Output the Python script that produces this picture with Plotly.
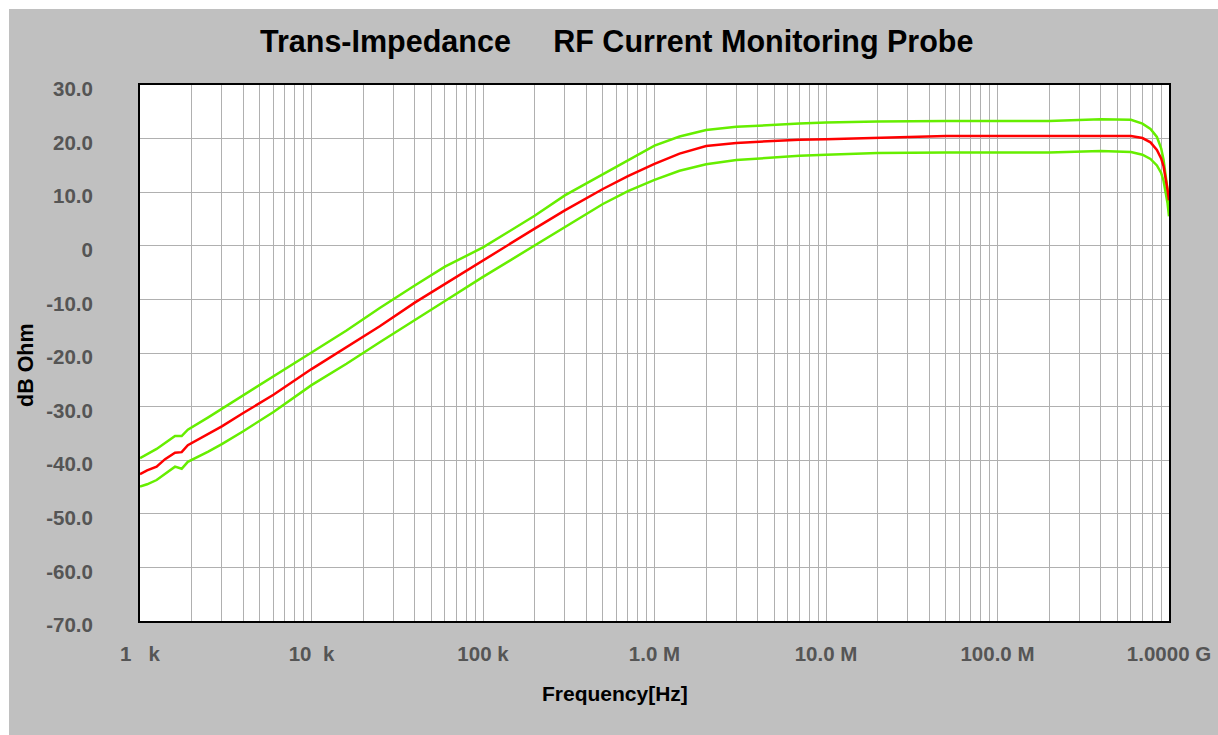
import plotly.graph_objects as go

# Measured trans-impedance of the RF current monitoring probe
freq_hz = [
    1000, 1100, 1250, 1400, 1600, 1750, 1900, 2500, 3000, 4000, 6000,
    10000, 16000, 25000, 40000, 60000, 100000, 150000, 200000, 300000,
    500000, 700000, 1000000, 1400000, 2000000, 3000000, 5000000, 7000000,
    10000000, 20000000, 50000000, 100000000, 200000000, 400000000,
    600000000, 700000000, 780000000, 850000000, 900000000, 930000000,
    960000000, 980000000, 1000000000,
]

z_nominal_db = [
    -42.6, -41.9, -41.2, -39.8, -38.6, -38.5, -37.2, -35.0, -33.7, -31.2, -27.8,
    -23.0, -18.9, -15.0, -10.6, -7.1, -2.7, 0.8, 3.2, 6.6,
    10.6, 13.0, 15.3, 17.2, 18.6, 19.2, 19.6, 19.8,
    19.9, 20.2, 20.5, 20.5, 20.5, 20.5,
    20.5, 20.1, 19.3, 17.9, 16.3, 14.8,
    12.5, 10.5, 8.5,
]

z_upper_db = [
    -39.6, -38.9, -37.9, -36.8, -35.5, -35.5, -34.3, -32.0, -30.4, -27.8, -24.3,
    -19.9, -15.8, -11.6, -7.4, -3.9, -0.3, 3.2, 5.6, 9.4,
    13.3, 16.0, 18.7, 20.4, 21.6, 22.2, 22.6, 22.8,
    23.0, 23.2, 23.3, 23.3, 23.3, 23.6,
    23.5, 22.8, 21.8, 20.3, 18.2, 16.0,
    13.2, 10.5, 7.0,
]

z_lower_db = [
    -44.9, -44.5, -43.7, -42.6, -41.2, -41.6, -40.3, -38.4, -37.0, -34.6, -31.0,
    -26.0, -22.0, -18.0, -13.8, -10.3, -5.8, -2.4, 0.0, 3.5,
    7.8, 10.2, 12.3, 14.0, 15.2, 16.0, 16.5, 16.8,
    17.0, 17.3, 17.4, 17.4, 17.4, 17.7,
    17.5, 17.0, 16.2, 15.0, 13.6, 12.1,
    9.8, 8.0, 5.5,
]

decades_hz = [1e3, 1e4, 1e5, 1e6, 1e7, 1e8, 1e9]
decade_labels = [
    "1\u00a0\u00a0\u00a0k", "10\u00a0\u00a0k", "100 k", "1.0 M",
    "10.0 M", "100.0 M", "1.0000 G",
]

y_ticks = [-70, -60, -50, -40, -30, -20, -10, 0, 10, 20, 30]
y_labels = ["-70.0", "-60.0", "-50.0", "-40.0", "-30.0", "-20.0",
            "-10.0", "0", "10.0", "20.0", "30.0"]

# x grid: every 1..9 step inside each decade, labels only on decades
x_tickvals, x_ticktext = [], []
for i, d in enumerate(decades_hz[:-1]):
    for m in range(1, 10):
        x_tickvals.append(m * d)
        x_ticktext.append(decade_labels[i] if m == 1 else "")
x_tickvals.append(decades_hz[-1])
x_ticktext.append(decade_labels[-1])

W, H = 1218, 735
L, R, T, B = 140, 49, 85, 114
pw, ph = W - L - R, H - T - B


def px_x(px):
    return (px - L) / pw


def px_y(py):
    return (H - B - py) / ph


GREEN = "#66ee00"
RED = "#ff0000"
FONT = "Liberation Sans"
TICK_FONT = dict(family=FONT, size=20.5, color="#555555", weight="bold")

fig = go.Figure()
fig.add_trace(go.Scatter(x=freq_hz, y=z_upper_db, mode="lines",
                         line=dict(color=GREEN, width=2.5), name="upper"))
fig.add_trace(go.Scatter(x=freq_hz, y=z_lower_db, mode="lines",
                         line=dict(color=GREEN, width=2.5), name="lower"))
fig.add_trace(go.Scatter(x=freq_hz, y=z_nominal_db, mode="lines",
                         line=dict(color=RED, width=2.5), name="nominal"))

fig.update_xaxes(
    type="log", range=[3, 9], automargin=False,
    tickmode="array", tickvals=x_tickvals, ticktext=x_ticktext,
    showgrid=True, gridcolor="#b0b0b0", gridwidth=1,
    showline=True, linecolor="black", linewidth=2, mirror=True,
    ticks="", ticklabelstandoff=13,
    tickfont=TICK_FONT,
    zeroline=False,
)
fig.update_yaxes(
    range=[-70, 30], automargin=False,
    tickmode="array", tickvals=y_ticks, ticktext=y_labels,
    showgrid=True, gridcolor="#b0b0b0", gridwidth=1,
    showline=True, linecolor="black", linewidth=2, mirror=True,
    ticks="", ticklabelstandoff=41, ticklabelshift=4,
    tickfont=TICK_FONT,
    zeroline=False,
)

annotations = [
    dict(text="Trans-Impedance\u00a0\u00a0\u00a0\u00a0\u00a0RF Current Monitoring Probe",
         x=px_x(616), y=px_y(41), xref="paper", yref="paper",
         xanchor="center", yanchor="middle", showarrow=False,
         font=dict(family=FONT, size=30.5, color="black", weight="bold")),
    dict(text="Frequency[Hz]",
         x=px_x(615), y=px_y(693), xref="paper", yref="paper",
         xanchor="center", yanchor="middle", showarrow=False,
         font=dict(family=FONT, size=21, color="black", weight="bold")),
    dict(text="dB Ohm", textangle=-90,
         x=px_x(26), y=px_y(365), xref="paper", yref="paper",
         xanchor="center", yanchor="middle", showarrow=False,
         font=dict(family=FONT, size=21.5, color="black", weight="bold")),
]

# thin white frame on the top and left of the grey panel
shapes = [
    dict(type="rect", xref="paper", yref="paper", layer="below",
         x0=px_x(-5), x1=px_x(9), y0=px_y(H + 5), y1=px_y(-5),
         fillcolor="white", line=dict(width=0)),
    dict(type="rect", xref="paper", yref="paper", layer="below",
         x0=px_x(-5), x1=px_x(W + 5), y0=px_y(9), y1=px_y(-5),
         fillcolor="white", line=dict(width=0)),
]

fig.update_layout(
    width=W, height=H, autosize=False,
    margin=dict(l=L, r=R, t=T, b=B, pad=0),
    paper_bgcolor="#c0c0c0", plot_bgcolor="white",
    showlegend=False,
    annotations=annotations, shapes=shapes,
)

fig.write_html("out.html")
